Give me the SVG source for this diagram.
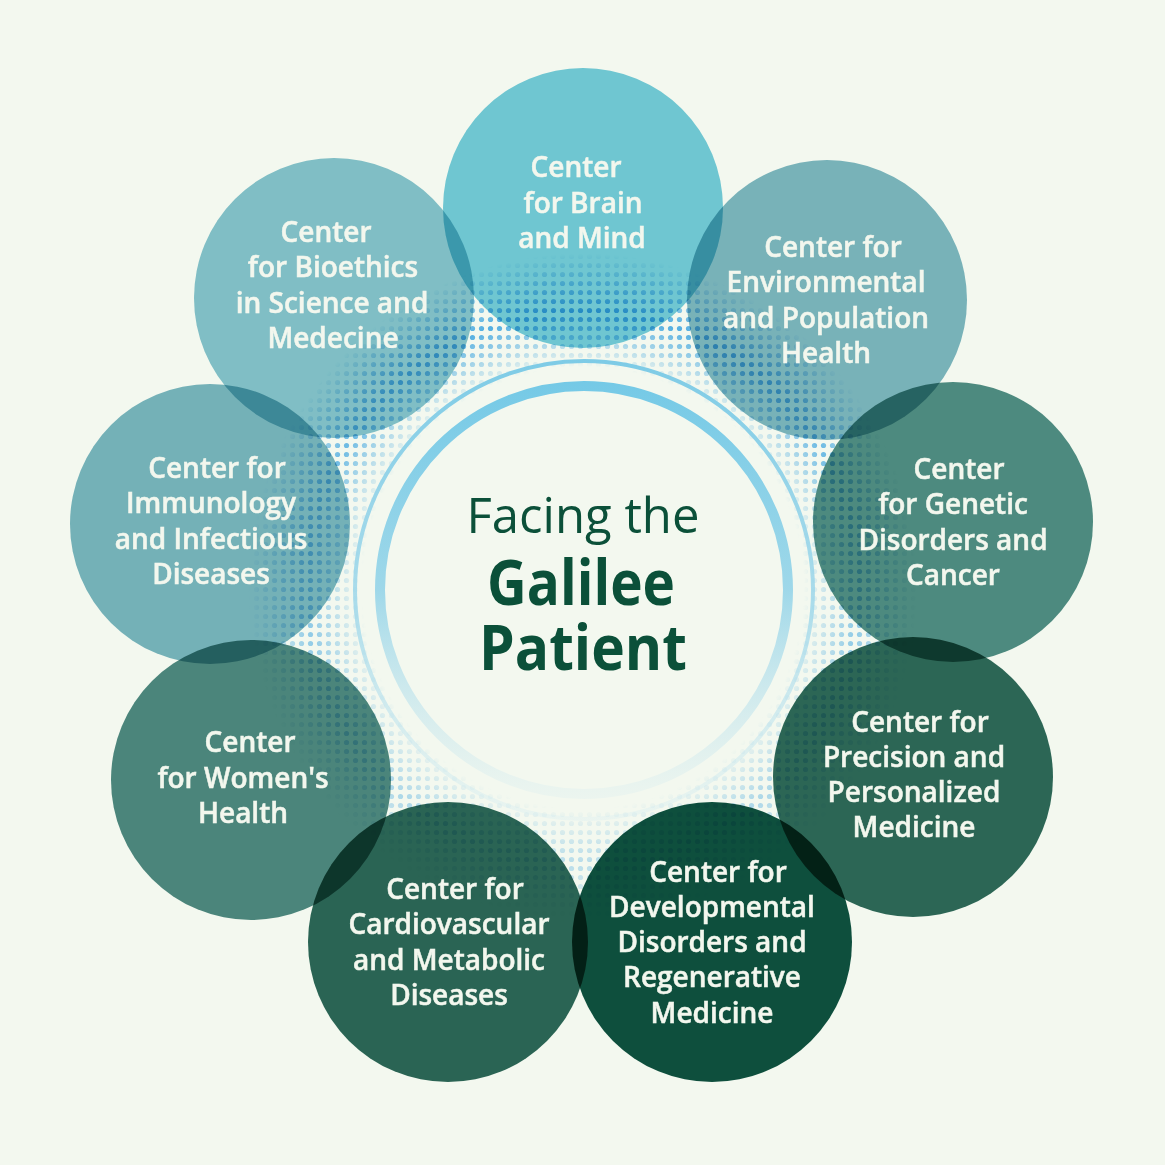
<svg xmlns="http://www.w3.org/2000/svg" width="1165" height="1165" viewBox="0 0 1165 1165">
<defs>
<style>
.c{mix-blend-mode:multiply}
.t{font-family:"Open Sans","Noto Sans","Liberation Sans",sans-serif;font-weight:600;font-size:28px;fill:#f3f7ee;stroke:#f3f7ee;stroke-width:0.5;text-anchor:middle}
.m{font-family:"Open Sans","Noto Sans","Liberation Sans",sans-serif;fill:#0b5039;text-anchor:middle}
</style>
<pattern id="dots" patternUnits="userSpaceOnUse" width="9" height="9">
<circle cx="4.5" cy="4.5" r="2.6" fill="#45a8e0"/>
</pattern>
<radialGradient id="ringG" gradientUnits="userSpaceOnUse" cx="583" cy="588" r="345">
<stop offset="0.64" stop-color="#000"/>
<stop offset="0.8" stop-color="#fff"/>
<stop offset="0.97" stop-color="#000"/>
</radialGradient>
<linearGradient id="vertG" gradientUnits="userSpaceOnUse" x1="0" y1="260" x2="0" y2="940">
<stop offset="0" stop-color="#fff"/>
<stop offset="0.4" stop-color="#aaa"/>
<stop offset="1" stop-color="#444"/>
</linearGradient>
<mask id="ringMask" maskUnits="userSpaceOnUse" x="0" y="0" width="1165" height="1165">
<rect width="1165" height="1165" fill="url(#ringG)"/>
</mask>
<mask id="vertMask" maskUnits="userSpaceOnUse" x="0" y="0" width="1165" height="1165">
<rect width="1165" height="1165" fill="url(#vertG)"/>
</mask>
<linearGradient id="ringStroke" gradientUnits="userSpaceOnUse" x1="0" y1="380" x2="0" y2="800">
<stop offset="0" stop-color="#74c9e6" stop-opacity="1"/>
<stop offset="0.5" stop-color="#8fd2e8" stop-opacity="0.85"/>
<stop offset="1" stop-color="#cfe9ef" stop-opacity="0.2"/>
</linearGradient>
<linearGradient id="ringStroke2" gradientUnits="userSpaceOnUse" x1="0" y1="358" x2="0" y2="820">
<stop offset="0" stop-color="#7dcbe6" stop-opacity="1"/>
<stop offset="0.55" stop-color="#9bd6ea" stop-opacity="0.8"/>
<stop offset="1" stop-color="#d4ecf1" stop-opacity="0.3"/>
</linearGradient>
</defs>
<rect width="1165" height="1165" fill="#f3f8ef"/>
<g id="halftone" mask="url(#ringMask)">
<g mask="url(#vertMask)">
<rect x="200" y="200" width="770" height="780" fill="url(#dots)"/>
</g>
</g>
<g id="rings" fill="none">
<circle cx="584" cy="590" r="229" stroke="url(#ringStroke2)" stroke-width="4"/>
<circle cx="584" cy="590" r="204" stroke="url(#ringStroke)" stroke-width="10"/>
</g>
<g id="title">
<text class="m" x="583" y="533" font-size="50" font-weight="400" textLength="233" lengthAdjust="spacingAndGlyphs">Facing the</text>
<text class="m" x="581" y="605" font-size="62" font-weight="700" textLength="188" lengthAdjust="spacingAndGlyphs">Galilee</text>
<text class="m" x="583" y="670" font-size="62" font-weight="700" textLength="208" lengthAdjust="spacingAndGlyphs">Patient</text>
</g>
<g id="node-brain">
<circle class="c" cx="583" cy="208" r="140" fill="#74ccdf"/>
<text class="t"><tspan x="576" y="177">Center</tspan><tspan x="583" y="213">for Brain</tspan><tspan x="582" y="248">and Mind</tspan></text>
</g>
<g id="node-environmental">
<circle class="c" cx="827" cy="300" r="140" fill="#7eb7c5"/>
<text class="t"><tspan x="833" y="257">Center for</tspan><tspan x="826" y="292">Environmental</tspan><tspan x="826" y="328">and Population</tspan><tspan x="826" y="363">Health</tspan></text>
</g>
<g id="node-genetic">
<circle class="c" cx="953" cy="522" r="140" fill="#518e87"/>
<text class="t"><tspan x="959" y="479">Center</tspan><tspan x="953" y="514">for Genetic</tspan><tspan x="953" y="550">Disorders and</tspan><tspan x="953" y="585">Cancer</tspan></text>
</g>
<g id="node-precision">
<circle class="c" cx="913" cy="777" r="140" fill="#2e695b"/>
<text class="t"><tspan x="920" y="732">Center for</tspan><tspan x="914" y="767">Precision and</tspan><tspan x="914" y="802">Personalized</tspan><tspan x="914" y="837">Medicine</tspan></text>
</g>
<g id="node-developmental">
<circle class="c" cx="712" cy="942" r="140" fill="#0e5141"/>
<text class="t"><tspan x="718" y="882">Center for</tspan><tspan x="712" y="917">Developmental</tspan><tspan x="712" y="952">Disorders and</tspan><tspan x="712" y="987">Regenerative</tspan><tspan x="712" y="1023">Medicine</tspan></text>
</g>
<g id="node-cardiovascular">
<circle class="c" cx="448" cy="942" r="140" fill="#2c6759"/>
<text class="t"><tspan x="455" y="899">Center for</tspan><tspan x="449" y="934">Cardiovascular</tspan><tspan x="449" y="970">and Metabolic</tspan><tspan x="449" y="1005">Diseases</tspan></text>
</g>
<g id="node-womens">
<circle class="c" cx="251" cy="780" r="140" fill="#4f8983"/>
<text class="t"><tspan x="250" y="752">Center</tspan><tspan x="243" y="788">for Women's</tspan><tspan x="243" y="823">Health</tspan></text>
</g>
<g id="node-immunology">
<circle class="c" cx="210" cy="524" r="140" fill="#7ab6c4"/>
<text class="t"><tspan x="217" y="478">Center for</tspan><tspan x="211" y="513">Immunology</tspan><tspan x="211" y="549">and Infectious</tspan><tspan x="211" y="584">Diseases</tspan></text>
</g>
<g id="node-bioethics">
<circle class="c" cx="334" cy="298" r="140" fill="#86c4d2"/>
<text class="t"><tspan x="326" y="242">Center</tspan><tspan x="333" y="277">for Bioethics</tspan><tspan x="332" y="313">in Science and</tspan><tspan x="333" y="348">Medecine</tspan></text>
</g>
<g id="connectors"/>
</svg>
